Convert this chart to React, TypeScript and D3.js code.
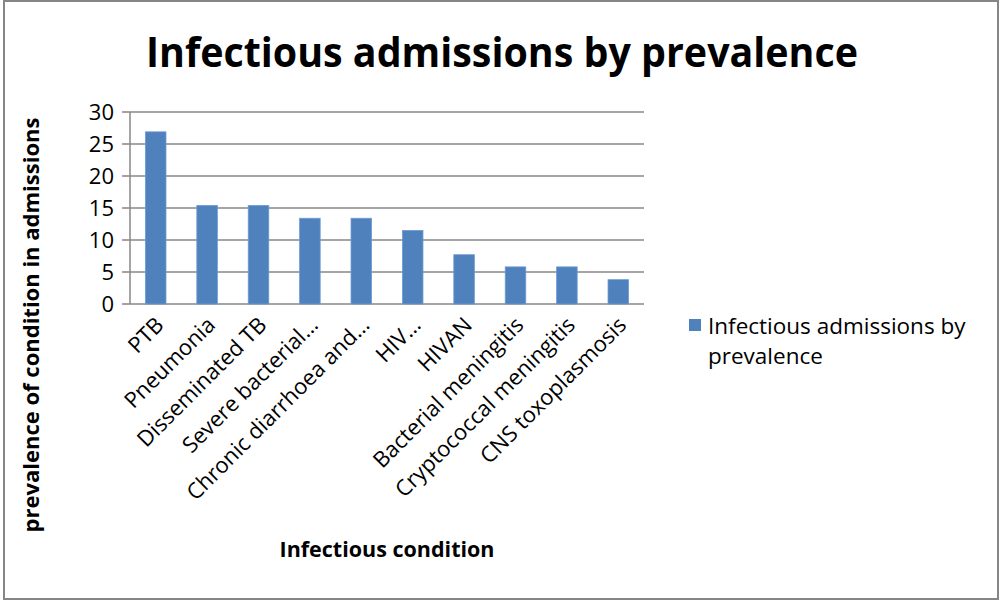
import React from "react";
import * as d3 from "d3";

const categories = [
  "PTB",
  "Pneumonia",
  "Disseminated TB",
  "Severe bacterial…",
  "Chronic diarrhoea and…",
  "HIV…",
  "HIVAN",
  "Bacterial meningitis",
  "Cryptococcal meningitis",
  "CNS toxoplasmosis",
];
const values = [26.9, 15.4, 15.4, 13.4, 13.4, 11.5, 7.7, 5.8, 5.8, 3.8];
const yTicks = [0, 5, 10, 15, 20, 25, 30];
const seriesName = "Infectious admissions by prevalence";

const W = 1000;
const H = 602;
const plot = { left: 130, right: 644, top: 112, bottom: 304 };
const font = "'Open Sans', 'Noto Sans', sans-serif";
const barColor = "#4F81BD";
const gridColor = "#878787";

export default function App() {
  const x = d3
    .scaleBand<string>()
    .domain(categories)
    .range([plot.left, plot.right])
    .paddingInner(0.6)
    .paddingOuter(0.3);
  const y = d3.scaleLinear().domain([0, 30]).range([plot.bottom, plot.top]);

  return (
    <svg
      width={W}
      height={H}
      style={{ position: "absolute", left: 0, top: 0, background: "#fff" }}
      fontFamily={font}
    >
      <rect x={0} y={0} width={W} height={H} fill="#fff" />
      <rect x={4} y={1} width={994} height={598} fill="none" stroke="#868686" strokeWidth={2} />
      <text
        x={502}
        y={67}
        textAnchor="middle"
        fontSize={42}
        fontWeight="bold"
        textLength={712}
        lengthAdjust="spacingAndGlyphs"
      >
        {seriesName}
      </text>

      {yTicks.map((t) => (
        <g key={t}>
          <line
            x1={plot.left - 8}
            x2={plot.right}
            y1={y(t)}
            y2={y(t)}
            stroke={gridColor}
            strokeWidth={1.5}
          />
          <text
            x={114}
            y={y(t)}
            dy="0.36em"
            textAnchor="end"
            fontSize={22}
            fill="#000"
          >
            {t}
          </text>
        </g>
      ))}
      <line
        x1={plot.left}
        x2={plot.left}
        y1={plot.top}
        y2={plot.bottom}
        stroke={gridColor}
        strokeWidth={1.5}
      />

      {categories.map((c, i) => (
        <rect
          key={c}
          x={x(c)}
          y={y(values[i])}
          width={x.bandwidth()}
          height={plot.bottom - y(values[i])}
          fill={barColor}
          stroke="#6d9bd6"
          strokeWidth={0.8}
        />
      ))}

      {categories.map((c) => {
        const cx = (x(c) as number) + x.bandwidth() / 2 + 4;
        const cy = 321;
        return (
          <text
            key={c}
            transform={`translate(${cx},${cy}) rotate(-45)`}
            textAnchor="end"
            fontSize={22}
            dy="0.35em"
          >
            {c}
          </text>
        );
      })}

      <text x={387} y={557} textAnchor="middle" fontSize={21.5} fontWeight="bold">
        Infectious condition
      </text>
      <text
        transform={`translate(39,325) rotate(-90)`}
        textAnchor="middle"
        fontSize={22}
        fontWeight="bold"
      >
        prevalence of condition in admissions
      </text>

      <rect x={689} y={319} width={12} height={12} fill={barColor} />
      <text x={708} y={334} fontSize={22.5}>
        Infectious admissions by
      </text>
      <text x={708} y={364} fontSize={22.5}>
        prevalence
      </text>
    </svg>
  );
}
